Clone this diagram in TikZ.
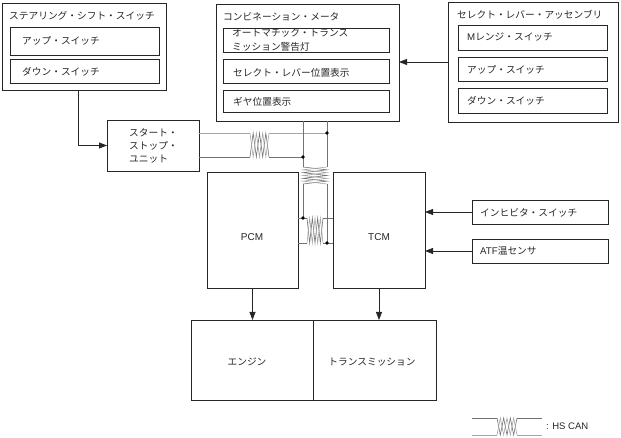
\documentclass[tikz,border=0pt]{standalone}
\usepackage{fontspec}
\setmainfont{Noto Sans CJK JP}
\newfontfamily\lat{Liberation Sans}
\usetikzlibrary{arrows.meta,calc}
\newcommand\twistH[4]{%
  \draw[wireA] (#1,#3) \foreach \i in {1,...,6}{ -- ({#1+\i*(#2-#1)/6},{#3+(#4-#3)*mod(\i,2)}) };
  \draw[wireB] (#1,#4) \foreach \i in {1,...,6}{ -- ({#1+\i*(#2-#1)/6},{#4+(#3-#4)*mod(\i,2)}) };
}
\newcommand\twistV[4]{% x1 x2 ya yb
  \draw[wireA] (#1,#3) \foreach \i in {1,...,6}{ -- ({#1+(#2-#1)*mod(\i,2)},{#3+\i*(#4-#3)/6}) };
  \draw[wireB] (#2,#3) \foreach \i in {1,...,6}{ -- ({#2+(#1-#2)*mod(\i,2)},{#3+\i*(#4-#3)/6}) };
}
\begin{document}
\begin{tikzpicture}[x=1pt,y=-1pt,
  box/.style={draw=black!85,line width=0.8pt,inner sep=0pt,outer sep=0pt,anchor=north west},
  jp/.style={font=\fontsize{9.7}{13.5}\selectfont,inner sep=0pt,anchor=west,text=black!85,align=left},
  la/.style={font=\lat\fontsize{10}{12}\selectfont,inner sep=0pt,text=black!85},
  arr/.style={draw=black!85,line width=0.8pt,-{Triangle[length=8pt,width=6pt]}},
  wireA/.style={draw=black!55,line width=0.6pt},
  wireB/.style={draw=black!35,line width=0.6pt},
  dot/.style={circle,fill=black,inner sep=0pt,minimum size=3.6pt}]
\useasboundingbox (0,0) rectangle (621,438);
% steering shift switch
\node[box,minimum width=164pt,minimum height=87pt] (steer) at (2,3) {};
\node[jp] (steerT) at (9,16) {ステアリング・シフト・スイッチ};
\node[box,minimum width=149pt,minimum height=28pt] (sUp) at (10,27) {};
\node[jp] (sUpT) at (22,41) {アップ・スイッチ};
\node[box,minimum width=149pt,minimum height=24pt] (sDn) at (10,59) {};
\node[jp] (sDnT) at (22,72) {ダウン・スイッチ};
% combination meter
\node[box,minimum width=183pt,minimum height=117pt] (comb) at (216,4) {};
\node[jp] (combT) at (223,17) {コンビネーション・メータ};
\node[box,minimum width=166pt,minimum height=24pt] (cW) at (223,28) {};
\node[jp,font=\fontsize{9.7}{14}\selectfont] (cWT) at (232,40) {オートマチック・トランス\\ミッション警告灯};
\node[box,minimum width=166pt,minimum height=24pt] (cS) at (223,59) {};
\node[jp] (cST) at (233,73) {セレクト・レバー位置表示};
\node[box,minimum width=166pt,minimum height=22pt] (cG) at (223,90) {};
\node[jp] (cGT) at (233,102) {ギヤ位置表示};
% select lever assembly
\node[box,minimum width=170pt,minimum height=120pt] (sel) at (448,2) {};
\node[jp] (selT) at (457,15) {セレクト・レバー・アッセンブリ};
\node[box,minimum width=149pt,minimum height=25pt] (lM) at (458,25) {};
\node[jp] (lMT) at (467,37) {{\lat M}レンジ・スイッチ};
\node[box,minimum width=149pt,minimum height=24pt] (lU) at (458,57) {};
\node[jp] (lUT) at (467,70) {アップ・スイッチ};
\node[box,minimum width=149pt,minimum height=25pt] (lD) at (458,88) {};
\node[jp] (lDT) at (467,101) {ダウン・スイッチ};
% start stop unit
\node[box,minimum width=92pt,minimum height=51pt] (ssu) at (107,120) {};
\node[jp,font=\fontsize{9.7}{13}\selectfont] (ssuT) at (129,146) {スタート・\\ストップ・\\ユニット};
% PCM TCM
\node[box,minimum width=91pt,minimum height=116pt] (pcm) at (207,172) {};
\node[la] (pcmT) at (252,237) {PCM};
\node[box,minimum width=92pt,minimum height=116pt] (tcm) at (333,172) {};
\node[la] (tcmT) at (379,237) {TCM};
% engine transmission
\node[box,minimum width=122pt,minimum height=80pt] (eng) at (191,320) {};
\node[jp,anchor=center] (engT) at (247,362) {エンジン};
\node[box,minimum width=123pt,minimum height=80pt] (trn) at (313,320) {};
\node[jp,anchor=center] (trnT) at (372,362) {トランスミッション};
% inhibitor, ATF
\node[box,minimum width=136pt,minimum height=24pt] (inh) at (472,200) {};
\node[jp] (inhT) at (480,213) {インヒビタ・スイッチ};
\node[box,minimum width=136pt,minimum height=24pt] (atf) at (472,239) {};
\node[jp] (atfT) at (480,251) {{\lat ATF}温センサ};
% arrows
\draw[arr] ($(steer.south)+(-6,0)$) |- (ssu.west);
\draw[arr] (sel.west) -- (sel.west -| comb.east);
\draw[arr] (pcm.south) -- (pcm.south |- eng.north);
\draw[arr] (tcm.south) -- (tcm.south |- trn.north);
\draw[arr] (inh.west) -- (inh.west -| tcm.east);
\draw[arr] (atf.west) -- (atf.west -| tcm.east);
% CAN wiring
\coordinate (d1) at (327,133);
\coordinate (d2) at (303,157);
\coordinate (d3) at (303,218);
\coordinate (d4) at (327,243);
\draw[wireB] (ssu.east |- d1) -- (250,133);
\draw[wireA] (ssu.east |- d2) -- (250,157);
\twistH{250}{269}{157}{133}
\draw[wireB] (269,133) -- (d1);
\draw[wireA] (269,157) -- (d2);
\draw[wireA] (comb.south -| d2) -- (303,167);
\draw[wireA] (comb.south -| d1) -- (327,167);
\twistV{303}{327}{167}{184}
\draw[wireA] (303,184) -- (d3);
\draw[wireA] (327,184) -- (d4);
\draw[wireA] (pcm.east |- d3) -- (307,218);
\draw[wireA] (pcm.east |- d4) -- (307,243);
\twistH{307}{323}{218}{243}
\draw[wireA] (323,218) -- (tcm.west |- d3);
\draw[wireA] (323,243) -- (tcm.west |- d4);
\foreach \d in {d1,d2,d3,d4} \node[dot] at (\d) {};
% legend
\coordinate (g1) at (472,418);
\coordinate (g2) at (472,435);
\draw[wireA] (g1) -- (497,418);
\draw[wireB] (g2) -- (497,435);
\twistH{497}{517}{418}{435}
\draw[wireA] (517,418) -- (542,418);
\draw[wireB] (517,435) -- (542,435);
\node[la,anchor=west,font=\lat\fontsize{9.5}{12}\selectfont] (legT) at (546,426) {: HS CAN};
\end{tikzpicture}
\end{document}
